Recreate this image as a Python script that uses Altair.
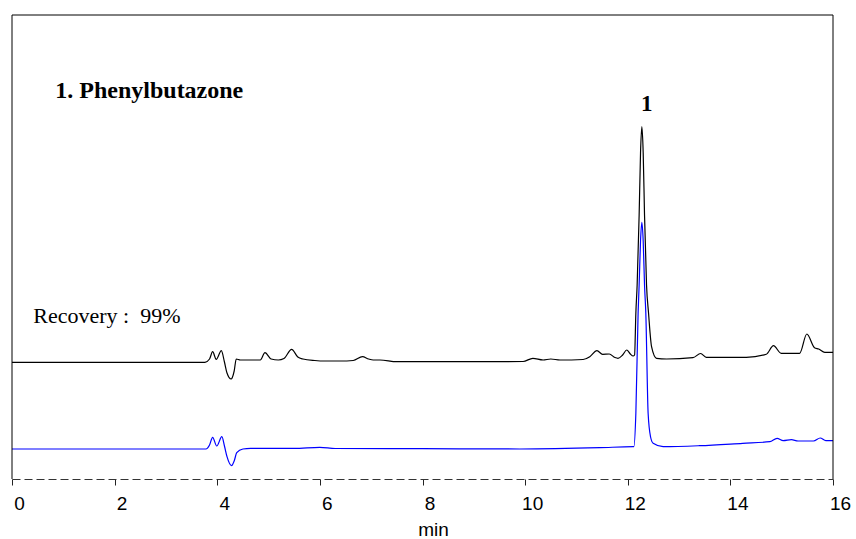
import altair as alt
import pandas as pd

# Trace 1 (black, upper chromatogram): retention time (min) and signal (a.u.)
black_t = [0, 3.76, 3.85, 3.91, 3.98, 4.08, 4.14, 4.19, 4.27, 4.33, 4.37, 4.45, 4.84, 4.93, 5.05,
           5.19, 5.3, 5.45, 5.57, 5.67, 5.9, 6.1, 6.4, 6.65, 6.83, 6.95, 7.04, 7.17, 7.5, 8.5,
           9.96, 10.15, 10.35, 10.5, 10.68, 11.13, 11.26, 11.4, 11.51, 11.64, 11.75, 11.81, 11.9,
           11.98, 12.05, 12.105, 12.133, 12.158, 12.183, 12.222, 12.249, 12.275, 12.301, 12.327,
           12.366, 12.405, 12.464, 12.561, 12.756, 13.27, 13.42, 13.53, 14.31, 14.70, 14.84,
           14.99, 15.35, 15.49, 15.64, 15.72, 15.84, 16]
black_v = [116.7, 116.7, 120, 127.3, 119.7, 128.3, 117, 106, 100, 108, 120, 119, 119, 126.3, 120,
           119, 120.5, 129.7, 122, 120, 118.5, 118, 118, 118.5, 122.3, 120, 119, 119, 117.3, 117.3,
           117.5, 120.7, 119, 120, 119, 119.5, 122.3, 128.3, 124.7, 125, 121.5, 120.7, 124,
           129, 125, 123, 124, 166, 194, 264, 326, 352.3, 326, 264,
           194, 166, 132.3, 120.7, 120, 121.3, 125.5, 121.7, 121.7, 124.7, 133.3,
           125.7, 125.7, 145, 131.3, 130, 126.7, 126.7]

# Trace 2 (blue, lower chromatogram)
blue_t = [0, 3.78, 3.85, 3.91, 3.99, 4.09, 4.14, 4.19, 4.28, 4.33, 4.38, 4.5, 4.65, 5.5, 6.0, 6.3,
          8, 9.9, 11.46, 12.1, 12.119, 12.158, 12.202, 12.222, 12.249, 12.275, 12.301, 12.327,
          12.352, 12.397, 12.445, 12.495, 12.69, 13.4, 14.24, 14.77, 14.91, 15.03, 15.19, 15.32,
          15.62, 15.75, 15.86, 16]
blue_v = [30, 30, 34, 41.7, 33, 42.3, 33, 22.3, 13.3, 18, 26.3, 30, 30.7, 30.7, 31.7, 30.5,
          30.3, 30, 31.3, 32.3, 32.3, 65.7, 166, 194, 238, 256.7, 238, 194,
          166, 65.7, 42, 35.7, 32.3, 33.3, 35.7, 37.3, 40.7, 38.3, 39.3, 38,
          38, 41, 38.3, 38.3]

x_ticks = [0, 2, 4, 6, 8, 10, 12, 14, 16]

# Annotations
ann_text = ["1. Phenylbutazone", "Recovery :\u00a0 99%", "1"]
ann_t = [0.843, 0.415, 12.37]
ann_v = [381, 156, 368]

W, H = 821, 464
X_DOM = [0, 16]
Y_DOM = [0, 464]

df = pd.concat([
    pd.DataFrame({"t": black_t, "v": black_v, "trace": "sample"}),
    pd.DataFrame({"t": blue_t, "v": blue_v, "trace": "standard"}),
])

xs = alt.Scale(domain=X_DOM, nice=False, zero=False)
ys = alt.Scale(domain=Y_DOM, nice=False, zero=False)

lines = alt.Chart(df).mark_line(strokeWidth=1.2, interpolate="monotone").encode(
    x=alt.X("t:Q", scale=xs, title="min",
            axis=alt.Axis(values=x_ticks, format="d", grid=False,
                          labelFont="Liberation Sans", labelFontSize=19, labelColor="#000",
                          labelOffset=7, labelPadding=9, labelFlush=False,
                          tickSize=6, tickColor="#222", tickWidth=1,
                          domainColor="#333", domainDash=[8, 4], domainWidth=1,
                          titleFont="Liberation Sans", titleFontSize=19, titleFontWeight="normal",
                          titleColor="#000", titlePadding=7, titleX=421)),
    y=alt.Y("v:Q", scale=ys, axis=None),
    color=alt.Color("trace:N", scale=alt.Scale(domain=["sample", "standard"],
                                               range=["#000000", "#0000ff"]), legend=None),
    detail="trace:N",
)

ann = pd.DataFrame({"label": ann_text, "t": ann_t, "v": ann_v})

title_txt = alt.Chart(ann.iloc[[0]]).mark_text(
    font="Liberation Serif", fontSize=24, fontWeight="bold", align="left", baseline="alphabetic",
    color="#000").encode(x=alt.X("t:Q", scale=xs), y=alt.Y("v:Q", scale=ys), text="label:N")
rec_txt = alt.Chart(ann.iloc[[1]]).mark_text(
    font="Liberation Serif", fontSize=22, align="left", baseline="alphabetic",
    color="#000").encode(x=alt.X("t:Q", scale=xs), y=alt.Y("v:Q", scale=ys), text="label:N")
peak_txt = alt.Chart(ann.iloc[[2]]).mark_text(
    font="Liberation Serif", fontSize=23, fontWeight="bold", align="center", baseline="alphabetic",
    color="#000").encode(x=alt.X("t:Q", scale=xs), y=alt.Y("v:Q", scale=ys), text="label:N")

one = pd.DataFrame({"a": [0]})
left_border = alt.Chart(one).mark_rule(color="#000", strokeWidth=1).encode(
    x=alt.value(0), y=alt.value(0), y2=alt.value(H))
right_border = alt.Chart(one).mark_rule(color="#000", strokeWidth=1).encode(
    x=alt.value(W), y=alt.value(0), y2=alt.value(H))
top_border = alt.Chart(one).mark_rule(color="#000", strokeWidth=1).encode(
    x=alt.value(0), x2=alt.value(W), y=alt.value(0))

chart = alt.layer(lines, title_txt, rec_txt, peak_txt, left_border, right_border, top_border).properties(
    width=W, height=H,
    autosize=alt.AutoSizeParams(type="none"),
    padding={"left": 12, "top": 15, "right": 23, "bottom": 60},
    background="white",
).configure_view(stroke=None)

chart.save("out.html", embed_options={"renderer": "svg", "actions": False})
